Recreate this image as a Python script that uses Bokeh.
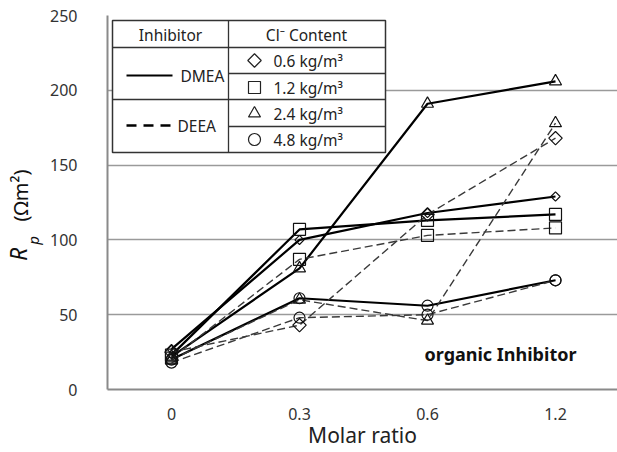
import math
from bokeh.plotting import figure
from bokeh.layouts import row
from bokeh.models import FixedTicker
from bokeh.core.properties import value
from bokeh.embed import file_html
from bokeh.resources import INLINE

# ---- data ----
molar_labels = ["0", "0.3", "0.6", "1.2"]
xpos = [0, 1, 2, 3]
dmea_06 = [27, 100, 118, 129]
dmea_12 = [23, 107, 113, 117]
dmea_24 = [22, 81, 191, 206]
dmea_48 = [20, 61, 56, 73]
deea_06 = [25, 43, 117, 168]
deea_12 = [21, 87, 103, 108]
deea_24 = [20, 60, 46, 178]
deea_48 = [18, 48, 50, 73]
y_ticks = [0, 50, 100, 150, 200, 250]
cl_labels = ["0.6 kg/m³", "1.2 kg/m³", "2.4 kg/m³", "4.8 kg/m³"]
cl_markers = ["diamond", "square", "triangle", "circle"]

FONT = "Noto Sans"
LEFT_W = 44  # width of the strip holding the y-axis title

# pixel -> data helpers (page px; main frame: x 107..617, y 15..389)
def X(px):
    return (px - 107) / 128.0 - 0.5

def Y(py):
    return (389 - py) * 250.0 / 374.0

p = figure(width=617 - LEFT_W, height=452, output_backend="svg", toolbar_location=None,
           x_range=(-0.5, -0.5 + 510 / 128.0), y_range=(0, 250),
           min_border_left=107 - LEFT_W, min_border_right=0, min_border_top=15,
           min_border_bottom=63)
p.outline_line_color = None
p.background_fill_color = "white"
p.border_fill_color = "white"

p.xgrid.grid_line_color = None
p.ygrid.grid_line_color = "#9a9a9a"
p.ygrid.grid_line_width = 1.3
p.ygrid.ticker = FixedTicker(ticks=y_ticks)

p.xaxis.ticker = FixedTicker(ticks=xpos)
p.xaxis.major_label_overrides = {i: l for i, l in zip(xpos, molar_labels)}
p.yaxis.ticker = FixedTicker(ticks=y_ticks)
for ax in (p.xaxis, p.yaxis):
    ax.major_tick_line_color = None
    ax.minor_tick_line_color = None
    ax.axis_line_color = "#8a8a8a"
    ax.axis_line_width = 2
    ax.major_label_text_font = FONT
    ax.major_label_text_font_size = "16px"
    ax.major_label_text_color = "#333333"
p.xaxis.major_label_standoff = 12
p.yaxis.major_label_standoff = 24
p.xaxis.axis_label = "Molar ratio"
p.xaxis.axis_label_text_font = FONT
p.xaxis.axis_label_text_font_size = "21px"
p.xaxis.axis_label_text_font_style = "normal"
p.xaxis.axis_label_text_color = "#222222"
p.xaxis.axis_label_standoff = -2

# ---- series ----
series = [
    (dmea_06, "diamond", "solid", 6.5),
    (dmea_12, "square", "solid", 12),
    (dmea_24, "triangle", "solid", 12),
    (dmea_48, "circle", "solid", 11),
    (deea_06, "diamond", "dashed", 9.5),
    (deea_12, "square", "dashed", 12),
    (deea_24, "triangle", "dashed", 12),
    (deea_48, "circle", "dashed", 11),
]
for vals, mk, kind, sz in series:
    if kind == "solid":
        p.line(xpos, vals, line_color="black", line_width=2.2)
    else:
        p.line(xpos, vals, line_color="#3a3a3a", line_width=1.4, line_dash="8 4")
for vals, mk, kind, sz in series:
    if mk == "diamond":
        p.scatter(xpos, vals, marker="square", angle=math.pi / 4, size=sz,
                  fill_color=None, line_color="#111111", line_width=1.2)
    else:
        p.scatter(xpos, vals, marker=mk, size=sz, fill_color=None,
                  line_color="#111111", line_width=1.2)

# ---- table legend ----
L, R, T, B, C = 112, 385, 20, 152, 228
p.quad(left=[X(L)], right=[X(R)], top=[Y(T)], bottom=[Y(B)],
       fill_color="white", line_color="#333333", line_width=1.5)
p.segment(x0=[X(C), X(L), X(L), X(C), X(C)],
          y0=[Y(T), Y(47), Y(99), Y(73), Y(126)],
          x1=[X(C), X(R), X(R), X(R), X(R)],
          y1=[Y(B), Y(47), Y(99), Y(73), Y(126)],
          line_color="#333333", line_width=1.3)
tstyle = dict(text_font=value(FONT), text_font_size="15.5px", text_color="#222222",
              text_baseline="middle")
p.text(x=[X(170)], y=[Y(34)], text=["Inhibitor"], text_align="center", **tstyle)
p.text(x=[X(306)], y=[Y(34)], text=["Cl⁻ Content"], text_align="center", **tstyle)
p.segment(x0=[X(126)], y0=[Y(75)], x1=[X(172)], y1=[Y(75)],
          line_color="black", line_width=2)
p.segment(x0=[X(126)], y0=[Y(125)], x1=[X(172)], y1=[Y(125)],
          line_color="black", line_width=2.5, line_dash="10 7")
p.text(x=[X(180)], y=[Y(75)], text=["DMEA"], text_align="left", **tstyle)
p.text(x=[X(177)], y=[Y(125)], text=["DEEA"], text_align="left", **tstyle)
row_y = [60, 87, 113, 139]
for lab, mk, ry in zip(cl_labels, cl_markers, row_y):
    if mk == "diamond":
        p.scatter([X(254)], [Y(ry)], marker="square", angle=math.pi / 4, size=9.5,
                  fill_color=None, line_color="#222222", line_width=1.2)
    else:
        p.scatter([X(254)], [Y(ry)], marker=mk, size=12, fill_color=None,
                  line_color="#222222", line_width=1.2)
    p.text(x=[X(273)], y=[Y(ry)], text=[lab], text_align="left", **tstyle)

p.text(x=[X(500)], y=[Y(353)], text=["organic Inhibitor"], text_align="center",
       text_baseline="middle", text_font=value(FONT), text_font_size="18px",
       text_font_style="bold", text_color="#111111")

# ---- y-axis title strip: R_p (Ωm²) (its frame is aligned with the main frame) ----
t = figure(width=LEFT_W, height=452, output_backend="svg", toolbar_location=None,
           x_range=(0, LEFT_W), y_range=(0, 250), x_axis_type=None, y_axis_type=None,
           min_border=0)
t.outline_line_color = None
t.xgrid.visible = False
t.ygrid.visible = False
ang = math.pi / 2
def lab(text, px, py, size, style):
    t.text(x=[px], y=[Y(py)], text=[text], angle=ang, text_align="center",
           text_baseline="middle", text_font=value(FONT), text_font_size=size,
           text_font_style=style, text_color="#111111")
lab("R", 17, 254, "23px", "italic")
lab("p", 32, 240, "15px", "italic")
lab("(Ωm²)", 20, 195, "20px", "normal")

layout = row(t, p)
open("out.html", "w").write(file_html(layout, INLINE))
